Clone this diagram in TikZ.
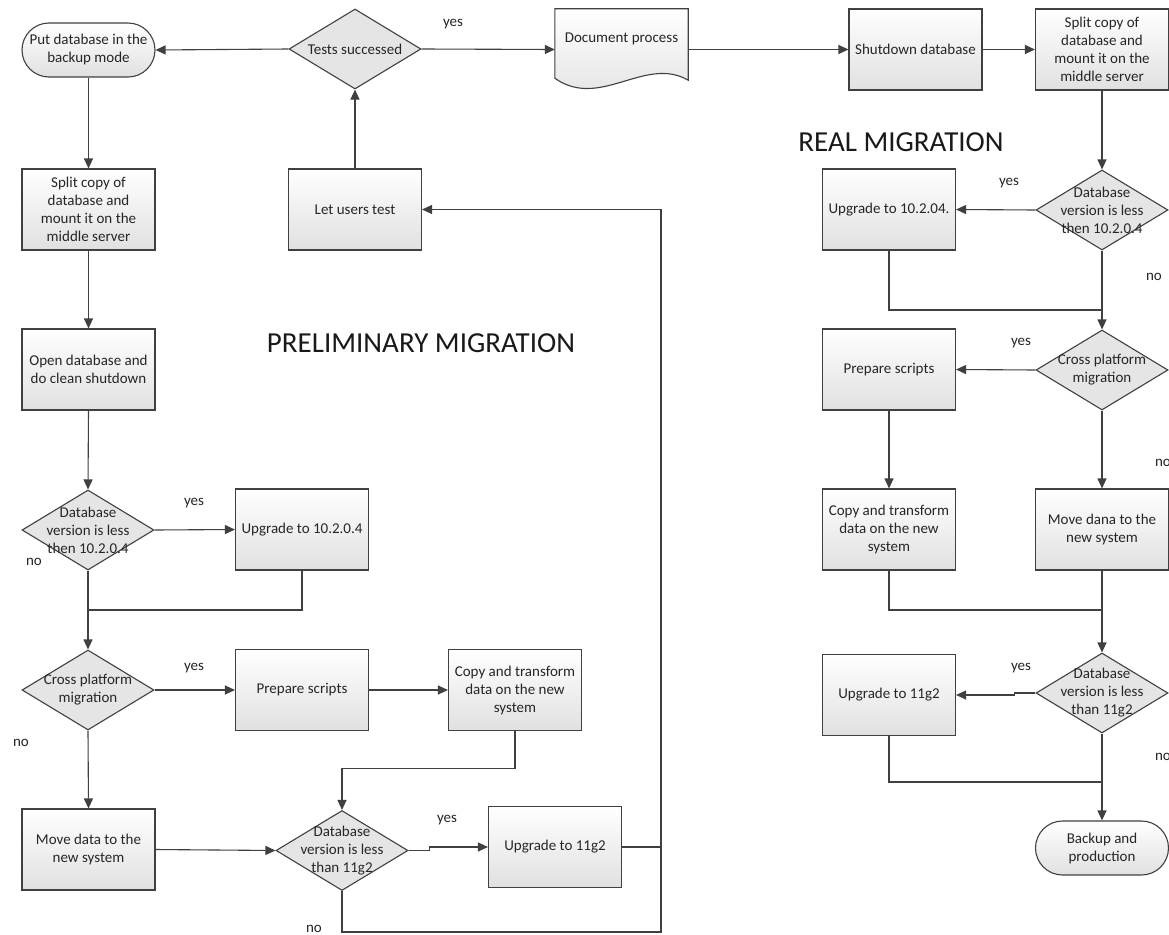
\documentclass[tikz,border=0pt]{standalone}
\usepackage{fontspec}
\setmainfont{Carlito}
\usepackage{tikz}
\usetikzlibrary{shapes.geometric,arrows.meta,backgrounds}

\begin{document}
\begin{tikzpicture}
[x=1pt,y=-1pt,font=\fontsize{15}{18}\selectfont,>={Triangle[length=10pt,width=9pt]},
box/.style={rectangle,draw=black!75,line width=1.1pt,top color=white,bottom color=black!12,minimum width=133pt,minimum height=81pt,inner sep=1pt,align=center,text=black!85},
term/.style={box,rounded corners=27pt,minimum height=54pt},
decision/.style={diamond,draw=black!75,line width=1.1pt,fill=black!10,minimum width=132pt,minimum height=80pt,inner sep=0pt},
docbox/.style={rectangle,minimum width=133pt,minimum height=81pt,inner sep=0pt,text=black!85},
flow/.style={draw=black!75,line width=1.1pt},
tag/.style={text=black!85},
heading/.style={font=\fontsize{29}{34}\selectfont,text=black!90}]
\useasboundingbox (0,0) rectangle (1169,934);
\draw (88.5,50) node[term] (bkmode) {Put database in the\\backup mode};
\draw (355,49) node[decision,label={[tag]center:Tests successed}] (tst) {};
\draw (621.5,49.5) node[docbox] (doc) {\raisebox{7pt}[0pt][0pt]{Document process}};
\draw (915.5,49.5) node[box] (shut) {Shutdown database};
\draw (1102,49.5) node[box] (rsplit) {Split copy of\\database and\\mount it on the\\middle server};
\draw (1102,210) node[decision,label={[tag,align=center]center:{Database\\version is less\\then 10.2.0.4}}] (rdb10) {};
\draw (889,209.5) node[box] (rup10) {Upgrade to 10.2.04.};
\draw (1102,370) node[decision,label={[tag,align=center]center:{Cross platform\\migration}}] (rcross) {};
\draw (889,369.5) node[box] (rprep) {Prepare scripts};
\draw (889,529.5) node[box] (rcopy) {Copy and transform\\data on the new\\system};
\draw (1102,529.5) node[box] (rmove) {Move dana to the\\new system};
\draw (1102,693) node[decision,label={[tag,align=center]center:{Database\\version is less\\than 11g2}}] (rdb11) {};
\draw (889,695) node[box] (rup11) {Upgrade to 11g2};
\draw (1102,848) node[term] (rback) {Backup and\\production};
\draw (88.5,209.5) node[box] (lsplit) {Split copy of\\database and\\mount it on the\\middle server};
\draw (355,209.5) node[box] (users) {Let users test};
\draw (88.5,369.5) node[box] (open) {Open database and\\do clean shutdown};
\draw (88,530) node[decision,label={[tag,align=center]center:{Database\\version is less\\then 10.2.0.4}}] (ldb10) {};
\draw (302,529.5) node[box] (lup10) {Upgrade to 10.2.0.4};
\draw (88,690) node[decision,label={[tag,align=center]center:{Cross platform\\migration}}] (lcross) {};
\draw (302,690) node[box] (lprep) {Prepare scripts};
\draw (515,690) node[box] (lcopy) {Copy and transform\\data on the new\\system};
\draw (88.5,849.5) node[box] (lmove) {Move data to the\\new system};
\draw (342,850.5) node[decision,label={[tag,align=center]center:{Database\\version is less\\than 11g2}}] (ldb11) {};
\draw (555,847) node[box] (lup11) {Upgrade to 11g2};
\draw (421,343) node[heading] (prelim) {PRELIMINARY MIGRATION};
\draw (901,142) node[heading] (real) {REAL MIGRATION};
\begin{scope}[on background layer]
\fill[white] (0,0) rectangle (1169,934);
\draw[flow,top color=white,bottom color=black!12](doc.north west)--(doc.north east)--([yshift=10pt]doc.south east) .. controls +(-43,-25) and +(45,32) .. ([yshift=12pt]doc.south west)--cycle;
\end{scope}
\coordinate (lj1) at (88,610);
\coordinate (lret) at (661,932);
\coordinate (rj1) at (1102,310);
\coordinate (rj2) at (1102,610);
\coordinate (rj3) at (1102,782);
\draw[flow,->](tst.west)--(bkmode.east);
\draw[flow,->](tst.east)--(doc.west);
\draw[flow,->](doc.east)--(shut.west);
\draw[flow,->](shut.east)--(rsplit.west);
\draw[flow,->](rsplit.south)--(rdb10.north);
\draw[flow,->](rdb10.west)--(rup10.east);
\draw[flow](rup10.south)|-(rj1);
\draw[flow,->](rdb10.south)--(rcross.north);
\draw[flow,->](rcross.west)--(rprep.east);
\draw[flow,->](rprep.south)--(rcopy.north);
\draw[flow,->](rcross.south)--(rmove.north);
\draw[flow](rcopy.south)|-(rj2);
\draw[flow,->](rmove.south)--(rdb11.north);
\draw[flow,->](rdb11.west)--++(-21,0)|-(rup11.east);
\draw[flow](rup11.south)|-(rj3);
\draw[flow,->](rdb11.south)--(rback.north);
\draw[flow,->](bkmode.south)--(lsplit.north);
\draw[flow,->](lsplit.south)--(open.north);
\draw[flow,->](open.south)--(ldb10.north);
\draw[flow,->](ldb10.east)--(lup10.west);
\draw[flow](lup10.south)|-(lj1);
\draw[flow,->](ldb10.south)--(lcross.north);
\draw[flow,->](lcross.east)--(lprep.west);
\draw[flow,->](lprep.east)--(lcopy.west);
\draw[flow,->](lcross.south)--(lmove.north);
\draw[flow,->](lcopy.south)--++(0,37)-|(ldb11.north);
\draw[flow,->](lmove.east)--(ldb11.west);
\draw[flow,->](ldb11.east)--++(21,0)|-(lup11.west);
\draw[flow](lup11.east)--(lup11.east-|lret);
\draw[flow,->](ldb11.south)|-(lret)|-(users.east);
\draw[flow,->](users.north)--(tst.south);
\draw (453,24) node[tag] (yes1) {yes};
\draw (1009,183) node[tag] (yes2) {yes};
\draw (1154,277) node[tag] (no2) {no};
\draw (1021,343) node[tag] (yes3) {yes};
\draw (1163,463) node[tag] (no3) {no};
\draw (1021,668) node[tag] (yes4) {yes};
\draw (1163,757) node[tag] (no4) {no};
\draw (194,503) node[tag] (yes5) {yes};
\draw (34,562) node[tag] (no5) {no};
\draw (194,668) node[tag] (yes6) {yes};
\draw (21,743) node[tag] (no6) {no};
\draw (447,820) node[tag] (yes7) {yes};
\draw (314,929) node[tag] (no7) {no};
\end{tikzpicture}
\end{document}
